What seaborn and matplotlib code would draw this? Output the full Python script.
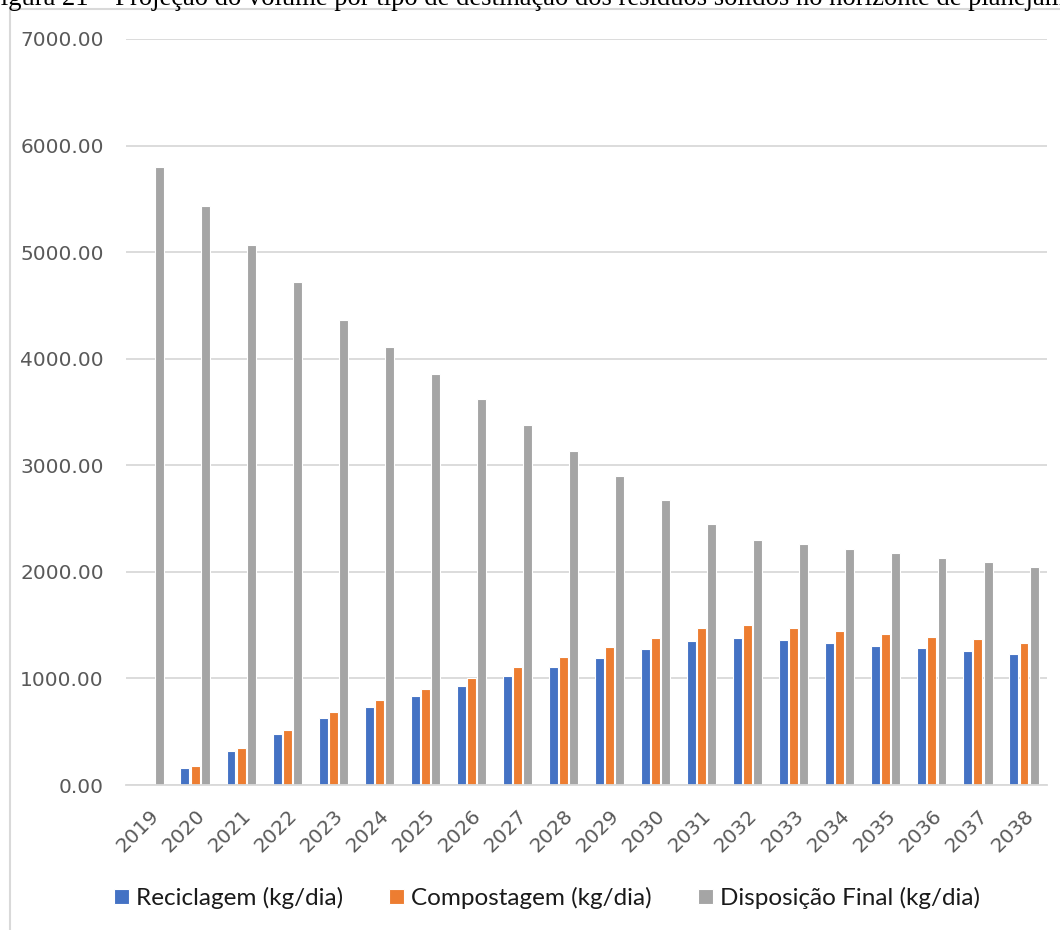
import pandas as pd
import matplotlib.pyplot as plt
import matplotlib.patches as mpatches
import seaborn as sns

years = [str(y) for y in range(2019, 2039)]
reciclagem = [0, 160, 320, 478, 628, 734, 834, 925, 1019, 1103,
              1190, 1272, 1350, 1384, 1359, 1331, 1303, 1281, 1256, 1228]
compostagem = [0, 175, 350, 518, 684, 794, 903, 1006, 1106, 1200,
               1294, 1384, 1469, 1500, 1475, 1446, 1418, 1390, 1366, 1334]
disposicao = [5795, 5433, 5070, 4717, 4367, 4111, 3858, 3619, 3375, 3138,
              2903, 2672, 2450, 2303, 2262, 2218, 2178, 2134, 2090, 2047]
series_names = ['Reciclagem (kg/dia)', 'Compostagem (kg/dia)', 'Disposição Final (kg/dia)']
colors = ['#4472C4', '#ED7D31', '#A5A5A5']
titulo = 'Figura 21 – Projeção do volume por tipo de destinação dos resíduos sólidos no horizonte de planejamento'

df = pd.DataFrame({'ano': years * 3,
                   'valor': reciclagem + compostagem + disposicao,
                   'serie': [s for s in series_names for _ in years]})

sns.set_style('white')
plt.rcParams['font.family'] = ['DejaVu Sans']

fig = plt.figure(figsize=(10.6, 9.3), dpi=100)
ax = fig.add_axes([126 / 1060, 145 / 930, 921 / 1060, 746 / 930])

sns.barplot(data=df, x='ano', y='valor', hue='serie', palette=colors,
            width=0.66, gap=0.12, edgecolor='white', linewidth=0.8,
            saturation=1, ax=ax, legend=True)

ax.set_ylim(0, 7000)
ax.set_xlim(-0.5, len(years) - 0.5)
ax.set_yticks(range(0, 7001, 1000))
ax.set_yticklabels([f'{v:.2f}' for v in range(0, 7001, 1000)])
ax.yaxis.grid(True, color='#d9d9d9', linewidth=1.3)
ax.set_axisbelow(True)
for s in ax.spines.values():
    s.set_visible(False)
ax.spines['bottom'].set_visible(True)
ax.spines['bottom'].set_color('#d9d9d9')
ax.spines['bottom'].set_linewidth(1.3)
ax.set_xlabel('')
ax.set_ylabel('')
ax.tick_params(axis='y', labelsize=14.5, labelcolor='#595959', length=0, pad=16)
ax.tick_params(axis='x', labelsize=14.5, labelcolor='#595959', length=0, pad=15)
for lab in ax.get_xticklabels():
    lab.set_rotation(45)
    lab.set_ha('right')
    lab.set_rotation_mode('anchor')

handles, labels = ax.get_legend_handles_labels()
ax.legend(handles, labels, loc='center', bbox_to_anchor=(547 / 1060, 1 - 898 / 930),
          bbox_transform=fig.transFigure, ncol=3, frameon=False,
          prop={'family': 'Lato', 'size': 17.5}, handlelength=0.62, handleheight=0.62,
          handletextpad=0.28, columnspacing=1.9, labelcolor='#1a1a1a')

# borda da area do grafico
fig.patches.append(mpatches.Rectangle((9.5 / 1060, -0.1), 1.2, 1 - 9.5 / 930 + 0.1,
                                      transform=fig.transFigure, fill=False,
                                      edgecolor='#d9d9d9', linewidth=1.5))

# titulo cortado no topo como na imagem original
fig.text(-14 / 1060, 1 - 5 / 930, titulo,
         family='Liberation Serif', fontsize=19.2, color='black', ha='left', va='baseline')

fig.savefig('out.png', dpi=100)
